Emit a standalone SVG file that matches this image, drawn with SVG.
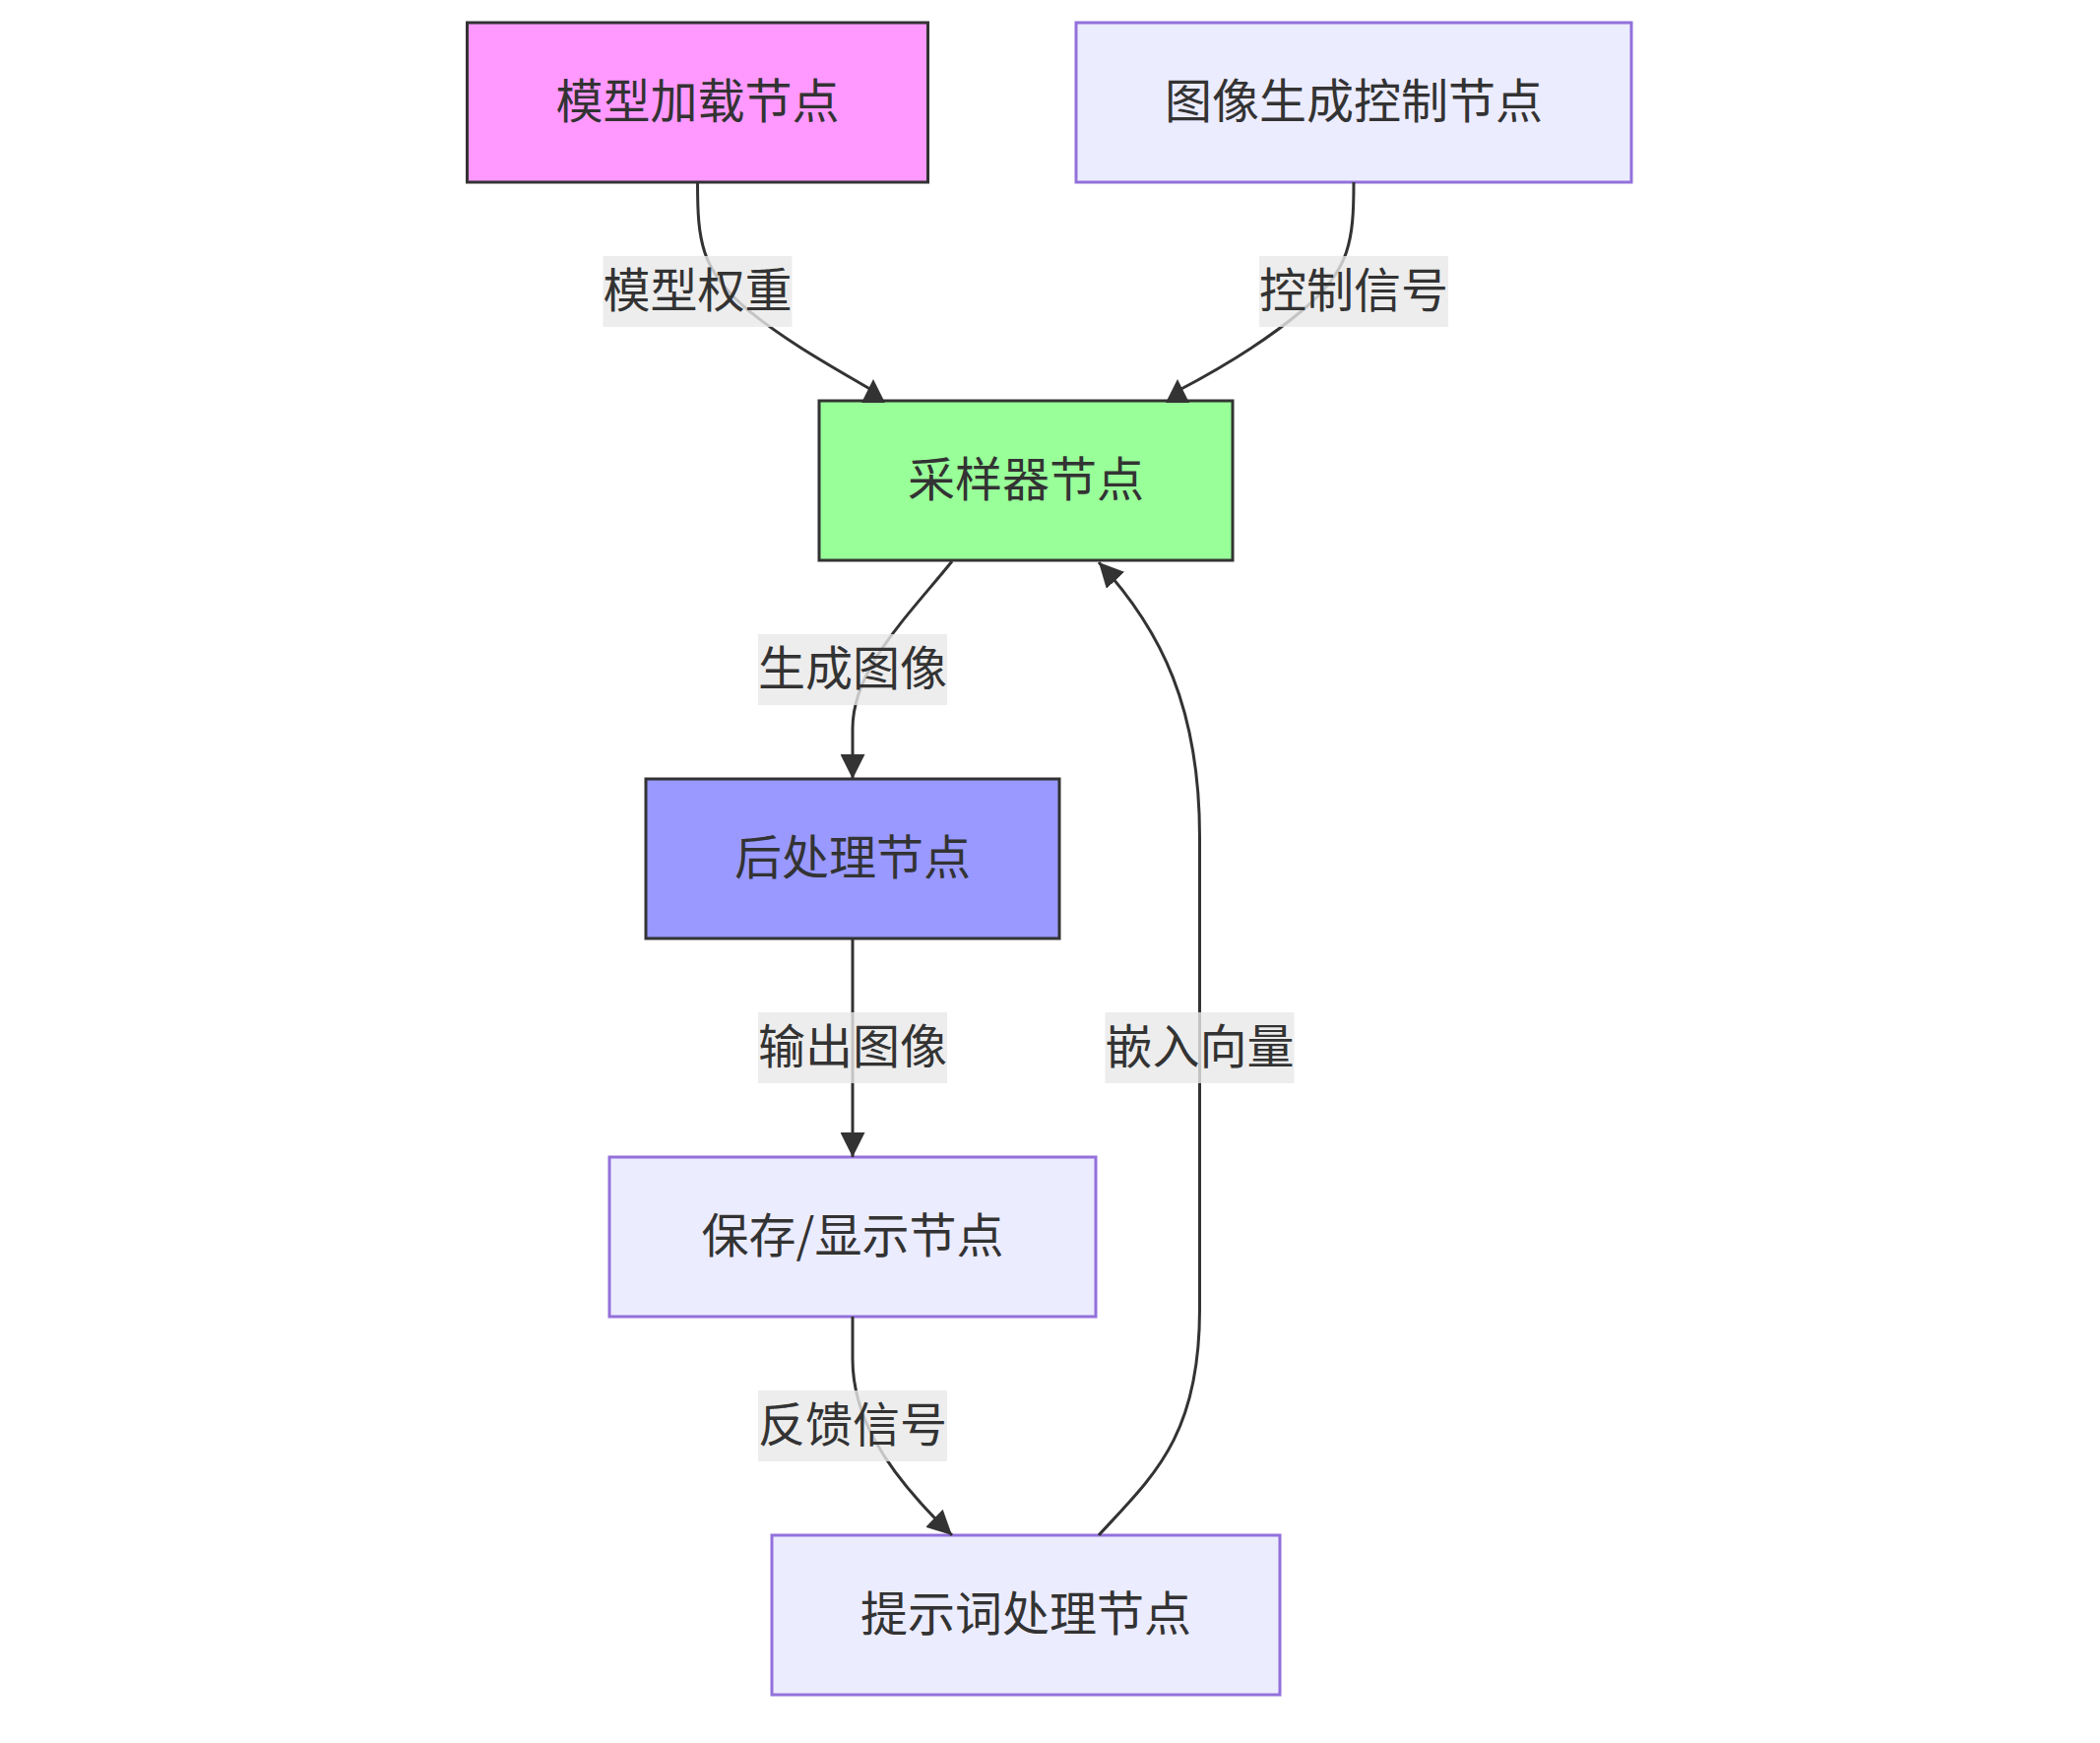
<svg xmlns="http://www.w3.org/2000/svg" width="2133" height="1770" viewBox="0 0 2133 1770">
<style>
.bg{fill:#ffffff}
.node rect{stroke-width:3}
.def rect{fill:#ECECFF;stroke:#9370DB}
.nt{font-family:"Noto Sans CJK SC","Noto Sans CJK TC",sans-serif;font-size:48px;fill:#333333;text-anchor:middle;dominant-baseline:central}
.edge{fill:none;stroke:#333333;stroke-width:3}
.lbl rect{fill:#e8e8e8;fill-opacity:0.8}
</style>
<defs>
<marker id="arrow" viewBox="0 0 10 10" refX="10" refY="5" markerUnits="userSpaceOnUse" markerWidth="25" markerHeight="25" orient="auto">
<path d="M0,0 L10,5 L0,10 z" fill="#333333"/>
</marker>
<marker id="arrowUp" viewBox="0 0 10 10" refX="5" refY="5" markerUnits="userSpaceOnUse" markerWidth="24" markerHeight="26" orient="270">
<path d="M0,0 L10,5 L0,10 z" fill="#333333"/>
</marker>
</defs>
<rect class="bg" x="0" y="0" width="2133" height="1770"/>

<g id="node-model-loader" class="node">
<rect x="474.5" y="23" width="468" height="162" fill="#ff99ff" stroke="#333333"/>
<text class="nt" x="708.5" y="99">模型加载节点</text>
</g>
<g id="node-image-control" class="node def">
<rect x="1093" y="23" width="564" height="162"/>
<text class="nt" x="1375" y="99">图像生成控制节点</text>
</g>
<g id="node-sampler" class="node">
<rect x="832" y="407" width="420" height="162" fill="#99ff99" stroke="#333333"/>
<text class="nt" x="1042" y="483">采样器节点</text>
</g>
<g id="node-postprocess" class="node">
<rect x="656" y="791" width="420" height="162" fill="#9999ff" stroke="#333333"/>
<text class="nt" x="866" y="867">后处理节点</text>
</g>
<g id="node-save-display" class="node def">
<rect x="619" y="1175" width="494" height="162"/>
<text class="nt" x="866" y="1251">保存/显示节点</text>
</g>
<g id="node-prompt" class="node def">
<rect x="784" y="1559" width="516" height="162"/>
<text class="nt" x="1042" y="1635">提示词处理节点</text>
</g>

<g id="connectors">
<path class="edge" d="M708.5,185 C708.5,245 712,275 760,315 C800,348 850,375 887,397" marker-end="url(#arrowUp)"/>
<path class="edge" d="M1375,185 C1375,245 1371,275 1323,315 C1285,347 1240,374 1196,397" marker-end="url(#arrowUp)"/>
<path class="edge" d="M967,570 C920,628 866,680 866,740 L866,791" marker-end="url(#arrow)"/>
<path class="edge" d="M866,953 L866,1175" marker-end="url(#arrow)"/>
<path class="edge" d="M866,1337 L866,1380 C866,1435 895,1490 967,1559" marker-end="url(#arrow)"/>
<path class="edge" d="M1116,1559 C1170,1500 1218.5,1460 1218.5,1330 L1218.5,850 C1218.5,720 1180,640 1116,571" marker-end="url(#arrow)"/>
</g>

<g id="edge-labels">
<g class="lbl"><rect x="612.5" y="260" width="192" height="72"/><text class="nt" x="708.5" y="291">模型权重</text></g>
<g class="lbl"><rect x="1279" y="260" width="192" height="72"/><text class="nt" x="1375" y="291">控制信号</text></g>
<g class="lbl"><rect x="770" y="644" width="192" height="72"/><text class="nt" x="866" y="675">生成图像</text></g>
<g class="lbl"><rect x="770" y="1028" width="192" height="72"/><text class="nt" x="866" y="1059">输出图像</text></g>
<g class="lbl"><rect x="1122.5" y="1028" width="192" height="72"/><text class="nt" x="1218.5" y="1059">嵌入向量</text></g>
<g class="lbl"><rect x="770" y="1412" width="192" height="72"/><text class="nt" x="866" y="1443">反馈信号</text></g>
</g>
</svg>
